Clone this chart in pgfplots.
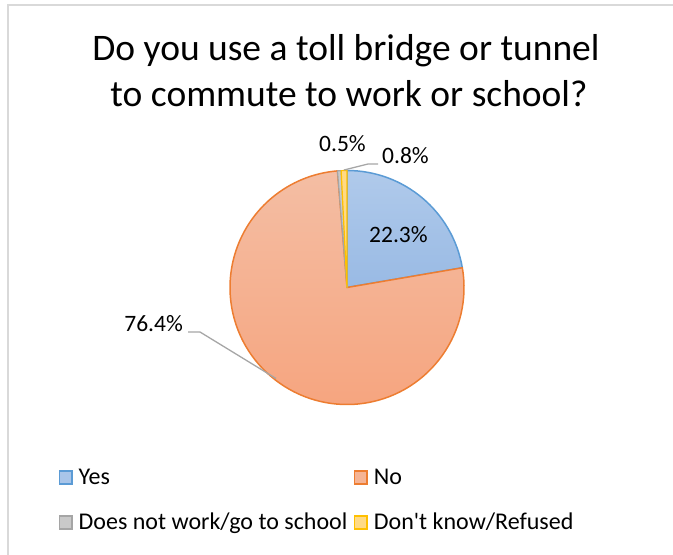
\documentclass[border=0pt]{standalone}
\usepackage{pgfplots}
\pgfplotsset{compat=1.18}
\usepackage{fontspec}
\setmainfont{Carlito}

\definecolor{yesline}{HTML}{5B9BD5}
\definecolor{yestop}{HTML}{B0CAEB}
\definecolor{yesbot}{HTML}{99BAE4}
\definecolor{noline}{HTML}{ED7D31}
\definecolor{notop}{HTML}{F4BEA4}
\definecolor{nobot}{HTML}{F6A47E}
\definecolor{nwline}{HTML}{A5A5A5}
\definecolor{nwfill}{HTML}{C9C9C9}
\definecolor{dkline}{HTML}{FFC000}
\definecolor{dkfill}{HTML}{FFDA85}
\definecolor{frame}{HTML}{D9D9D9}
\definecolor{leader}{HTML}{A6A6A6}

\tikzset{lbl/.style={font=\fontsize{23.5bp}{28bp}\selectfont, inner sep=0pt}}

\begin{document}
\begin{tikzpicture}
% shares in percent, clockwise from 12 o'clock
\def\vYes{22.3}
\def\vNo{76.4}
\def\vNW{0.5}
\def\vDK{0.8}
\pgfmathsetmacro\aA{90}
\pgfmathsetmacro\aB{\aA-3.6*\vYes}
\pgfmathsetmacro\aC{\aB-3.6*\vNo}
\pgfmathsetmacro\aD{\aC-3.6*\vNW}
\pgfmathsetmacro\aE{\aD-3.6*\vDK}
\def\R{117bp}
\begin{axis}[
    scale only axis,
    width=673bp, height=555bp,
    xmin=0, xmax=673, ymin=0, ymax=555,
    hide axis, clip=false,
    legend columns=2,
    legend cell align=left,
    legend image code/.code={\draw[#1] (0.75bp,-5.5bp) rectangle (13.25bp,7.5bp);},
    legend style={at={(axis cs:58.5,87)}, anchor=north west,
        draw=none, fill=none, inner sep=0pt,
        font=\fontsize{24bp}{28bp}\selectfont,
        column sep=6bp, row sep=24bp,
        nodes={inner sep=0pt, text height=16bp, text depth=5bp},
        /tikz/every even column/.append style={column sep=6.5bp}},
]
\addlegendimage{draw=yesline, fill=yestop!70!yesbot, line width=1.5bp}
\addlegendentry{Yes}
\addlegendimage{draw=noline, fill=notop!60!nobot, line width=1.5bp}
\addlegendentry{No}
\addlegendimage{draw=nwline, fill=nwfill, line width=1.5bp}
\addlegendentry{Does not work/go to school}
\addlegendimage{draw=dkline, fill=dkfill, line width=1.5bp}
\addlegendentry{Don\textquotesingle t know/Refused}

% chart frame
\draw[frame, line width=1.2bp] (axis cs:8,0) -- (axis cs:8,550) -- (axis cs:673,550);

% slices
\draw[yesline, line width=1.5bp, line join=round, top color=yestop, bottom color=yesbot]
    (axis cs:347,267.5) -- ++(\aA:\R) arc[start angle=\aA, end angle=\aB, radius=\R] -- cycle;
\draw[noline, line width=1.5bp, line join=round, top color=notop, bottom color=nobot]
    (axis cs:347,267.5) -- ++(\aB:\R) arc[start angle=\aB, end angle=\aC, radius=\R] -- cycle;
\draw[nwline, line width=1.2bp, line join=round, fill=nwfill]
    (axis cs:347,267.5) -- ++(\aC:\R) arc[start angle=\aC, end angle=\aD, radius=\R] -- cycle;
\draw[dkline, line width=1.2bp, line join=round, fill=dkfill]
    (axis cs:347,267.5) -- ++(\aD:\R) arc[start angle=\aD, end angle=\aE, radius=\R] -- cycle;

% leader lines
\draw[leader, line width=1.3bp] (axis cs:188,223) -- (axis cs:200,223) -- (axis cs:276,176.5);
\draw[leader, line width=1.3bp] (axis cs:378,391) -- (axis cs:368,391) -- (axis cs:344,385);

% data labels
\node[lbl, anchor=base west] at (axis cs:369,312) {22.3\%};
\node[lbl, anchor=base east] at (axis cs:183,223) {76.4\%};
\node[lbl, anchor=base west] at (axis cs:319,403) {0.5\%};
\node[lbl, anchor=base west] at (axis cs:382,391) {0.8\%};

% title
\node[anchor=base, inner sep=0pt, font=\fontsize{37.5bp}{44bp}\selectfont]
    at (axis cs:346,494) {Do you use a toll bridge or tunnel};
\node[anchor=base, inner sep=0pt, font=\fontsize{37.5bp}{44bp}\selectfont]
    at (axis cs:349,448) {to commute to work or school?};
\end{axis}
\pgfresetboundingbox
\useasboundingbox (0,0) rectangle (673bp,555bp);
\end{tikzpicture}
\end{document}
